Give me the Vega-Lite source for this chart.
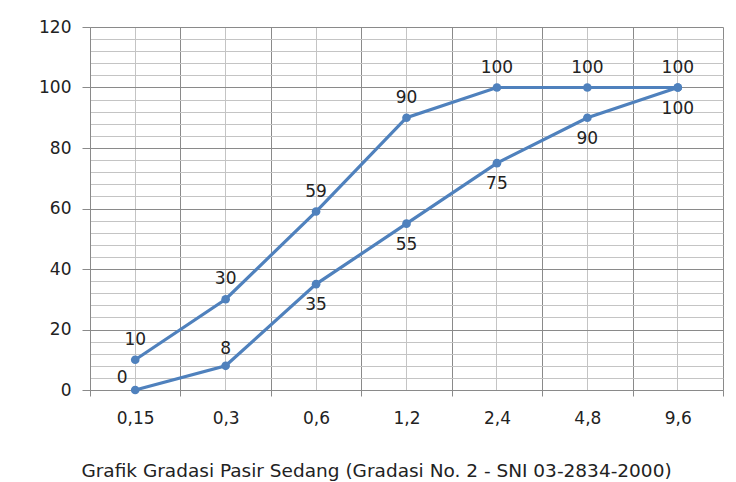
{
  "$schema": "https://vega.github.io/schema/vega-lite/v6.json",
  "width": 633,
  "height": 363,
  "autosize": {"type": "none"},
  "padding": {"left": 90, "top": 27, "right": 13, "bottom": 92},
  "background": "white",
  "title": {"text": "Grafik Gradasi Pasir Sedang (Gradasi No. 2 - SNI 03-2834-2000)", "orient": "bottom", "offset": 36, "dx": -30, "font": "DejaVu Sans", "fontSize": 18.5, "fontWeight": "normal", "color": "#222222", "anchor": "middle"},
  "config": {"view": {"stroke": null}},
  "data": {"values": [
    {"size": "0,15", "series": "Batas Atas", "value": 10},
    {"size": "0,3", "series": "Batas Atas", "value": 30},
    {"size": "0,6", "series": "Batas Atas", "value": 59},
    {"size": "1,2", "series": "Batas Atas", "value": 90},
    {"size": "2,4", "series": "Batas Atas", "value": 100},
    {"size": "4,8", "series": "Batas Atas", "value": 100},
    {"size": "9,6", "series": "Batas Atas", "value": 100},
    {"size": "0,15", "series": "Batas Bawah", "value": 0},
    {"size": "0,3", "series": "Batas Bawah", "value": 8},
    {"size": "0,6", "series": "Batas Bawah", "value": 35},
    {"size": "1,2", "series": "Batas Bawah", "value": 55},
    {"size": "2,4", "series": "Batas Bawah", "value": 75},
    {"size": "4,8", "series": "Batas Bawah", "value": 90},
    {"size": "9,6", "series": "Batas Bawah", "value": 100}
  ]},
  "encoding": {
    "y": {"field": "value", "type": "quantitative", "scale": {"domain": [0, 120], "nice": false},
      "axis": {"title": null, "values": [0,4,8,12,16,20,24,28,32,36,40,44,48,52,56,60,64,68,72,76,80,84,88,92,96,100,104,108,112,116,120],
        "labelExpr": "datum.value % 20 === 0 ? datum.label : ''",
        "labelOverlap": false,
        "grid": true,
        "gridColor": {"condition": {"test": "datum.value % 20 === 0", "value": "#8a8a8a"}, "value": "#c4c4c4"},
        "tickOpacity": {"condition": {"test": "datum.value % 20 === 0", "value": 1}, "value": 0},
        "tickColor": "#8a8a8a", "tickSize": 8, "domainColor": "#8a8a8a",
        "labelFont": "DejaVu Sans", "labelFontSize": 17, "labelColor": "#222222", "labelPadding": 11}}
  },
  "layer": [
    {
      "mark": {"type": "line", "color": "#4F81BD", "strokeWidth": 3.2, "point": {"filled": true, "size": 75, "color": "#4F81BD"}},
      "encoding": {
        "x": {"field": "size", "type": "ordinal", "sort": ["0,15", "0,3", "0,6", "1,2", "2,4", "4,8", "9,6"], "scale": {"type": "band", "paddingInner": 0, "paddingOuter": 0},
          "axis": {"orient": "bottom", "title": null, "tickBand": "extent", "grid": true, "gridColor": "#8a8a8a", "gridWidth": 1, "domainColor": "#8a8a8a", "tickColor": "#8a8a8a", "tickSize": 6, "labelAngle": 0, "labelFont": "DejaVu Sans", "labelFontSize": 17, "labelColor": "#222222", "labelPadding": 14}},
        "detail": {"field": "series"}
      }
    },
    {
      "mark": {"type": "text", "font": "DejaVu Sans", "fontSize": 17, "color": "#222222", "baseline": "middle", "dy": -20},
      "transform": [{"filter": "datum.series === 'Batas Atas'"}],
      "encoding": {
        "x": {"field": "size", "type": "ordinal", "sort": ["0,15", "0,3", "0,6", "1,2", "2,4", "4,8", "9,6"],
          "axis": {"orient": "top", "title": null, "bandPosition": 0.5, "grid": true, "gridColor": "#c4c4c4", "labels": false, "ticks": false, "domain": false}},
        "text": {"field": "value"}
      }
    },
    {
      "mark": {"type": "text", "font": "DejaVu Sans", "fontSize": 17, "color": "#222222", "baseline": "middle", "dy": 21},
      "transform": [{"filter": "datum.series === 'Batas Bawah' && datum.value >= 35"}],
      "encoding": {
        "x": {"field": "size", "type": "ordinal", "sort": ["0,15", "0,3", "0,6", "1,2", "2,4", "4,8", "9,6"], "axis": null},
        "text": {"field": "value"}
      }
    },
    {
      "mark": {"type": "text", "font": "DejaVu Sans", "fontSize": 17, "color": "#222222", "baseline": "middle", "dy": -17},
      "transform": [{"filter": "datum.series === 'Batas Bawah' && datum.size === '0,3'"}],
      "encoding": {
        "x": {"field": "size", "type": "ordinal", "sort": ["0,15", "0,3", "0,6", "1,2", "2,4", "4,8", "9,6"], "axis": null},
        "text": {"field": "value"}
      }
    },
    {
      "mark": {"type": "text", "font": "DejaVu Sans", "fontSize": 17, "color": "#222222", "baseline": "middle", "dx": -13, "dy": -12},
      "transform": [{"filter": "datum.series === 'Batas Bawah' && datum.size === '0,15'"}],
      "encoding": {
        "x": {"field": "size", "type": "ordinal", "sort": ["0,15", "0,3", "0,6", "1,2", "2,4", "4,8", "9,6"], "axis": null},
        "text": {"field": "value"}
      }
    }
  ],
  "resolve": {"axis": {"x": "independent"}}
}
